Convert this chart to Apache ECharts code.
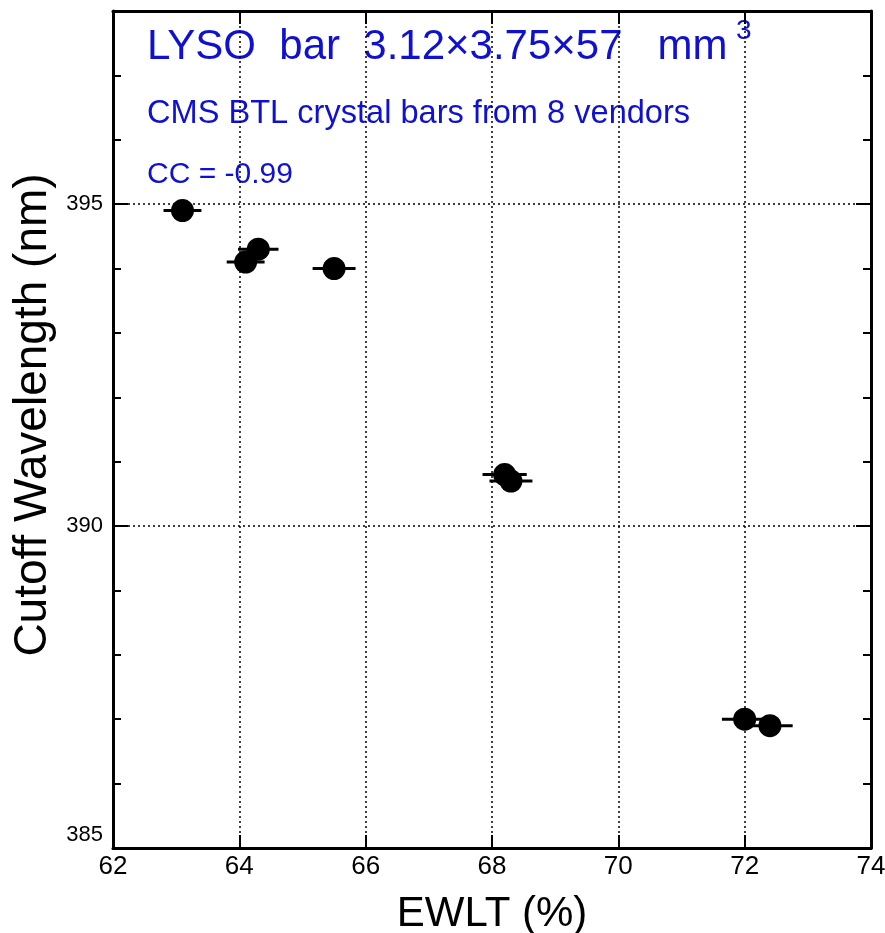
<!DOCTYPE html>
<html>
<head>
<meta charset="utf-8">
<script src="https://cdn.jsdelivr.net/npm/echarts@6/dist/echarts.min.js"></script>
<style>
  html, body { margin: 0; padding: 0; background: #fff; }
  #chart { width: 885px; height: 933px; }
</style>
</head>
<body>
<div id="chart"></div>
<script>
// EWLT (%) vs cutoff wavelength (nm), one point per vendor batch
const ewlt = [63.1, 64.1, 64.3, 65.5, 68.2, 68.3, 72.0, 72.4]
const cutoff = [394.9, 394.1, 394.3, 394.0, 390.8, 390.7, 387.0, 386.9]
const ewltErr = [0.3, 0.3, 0.32, 0.34, 0.35, 0.34, 0.36, 0.36]
const yLabels = [385, 390, 395]

const blue = '#1010d0'
const font = 'Liberation Sans, Arial, sans-serif'

const points = ewlt.map((x, i) => [x, cutoff[i], ewltErr[i]])

const chart = echarts.init(document.getElementById('chart'))

const frame = { show: true, lineStyle: { color: '#000', width: 3 } }
const dotted = { show: true, lineStyle: { color: '#000', width: 1.5, type: [2, 3] } }

chart.setOption({
  animation: false,
  grid: { left: 113, right: 14, top: 11, bottom: 85, outerBoundsMode: 'none' },
  xAxis: [
    {
      type: 'value', min: 62, max: 74, interval: 2,
      axisLine: frame,
      axisTick: { inside: true, length: 13, lineStyle: { color: '#000', width: 2 } },
      axisLabel: { color: '#000', fontSize: 26, fontFamily: font, margin: 6 },
      splitLine: dotted
    },
    {
      type: 'value', position: 'top', min: 62, max: 74, interval: 2,
      axisLine: frame,
      axisTick: { inside: true, length: 13, lineStyle: { color: '#000', width: 2 } },
      axisLabel: { show: false },
      splitLine: { show: false }
    }
  ],
  yAxis: [
    {
      type: 'value', position: 'left', min: 385, max: 398, interval: 5,
      axisLine: frame,
      axisTick: { inside: true, length: 15, lineStyle: { color: '#000', width: 2 } },
      axisLabel: {
        color: '#000', fontSize: 22, fontFamily: font, margin: 10,
        formatter: v => yLabels.includes(v) ? (v === 385 ? '{low|' + v + '}' : String(v)) : '',
        rich: { low: { fontSize: 22, fontFamily: font, color: '#000', padding: [0, 0, 26, 0] } }
      },
      splitLine: dotted
    },
    {
      type: 'value', position: 'left', min: 385, max: 398, interval: 1,
      axisLine: { show: false },
      axisTick: { inside: true, length: 8, lineStyle: { color: '#000', width: 2 } },
      axisLabel: { show: false },
      splitLine: { show: false }
    },
    {
      type: 'value', position: 'right', min: 385, max: 398, interval: 5,
      axisLine: frame,
      axisTick: { inside: true, length: 15, lineStyle: { color: '#000', width: 2 } },
      axisLabel: { show: false },
      splitLine: { show: false }
    },
    {
      type: 'value', position: 'right', min: 385, max: 398, interval: 1,
      axisLine: { show: false },
      axisTick: { inside: true, length: 8, lineStyle: { color: '#000', width: 2 } },
      axisLabel: { show: false },
      splitLine: { show: false }
    }
  ],
  graphic: [
    {
      type: 'text', left: 147, top: 26,
      style: { text: 'LYSO  bar  3.12×3.75×57   mm', fill: blue, font: '42px ' + font }
    },
    {
      type: 'text', left: 736, top: 17,
      style: { text: '3', fill: blue, font: '28px ' + font }
    },
    {
      type: 'text', left: 147, top: 98,
      style: { text: 'CMS BTL crystal bars from 8 vendors', fill: blue, font: '32.6px ' + font }
    },
    {
      type: 'text', left: 147, top: 160,
      style: { text: 'CC = -0.99', fill: blue, font: '30px ' + font }
    },
    {
      type: 'text', x: 33, y: 415, rotation: Math.PI / 2,
      style: { text: 'Cutoff Wavelength (nm)', fill: '#000', font: '46px ' + font, align: 'center', verticalAlign: 'middle' }
    },
    {
      type: 'text', x: 492, y: 914,
      style: { text: 'EWLT (%)', fill: '#000', font: '42px ' + font, align: 'center', verticalAlign: 'middle' }
    }
  ],
  series: [
    {
      type: 'custom',
      data: points,
      renderItem: (params, api) => {
        const y = api.value(1)
        const a = api.coord([api.value(0) - api.value(2), y])
        const b = api.coord([api.value(0) + api.value(2), y])
        return {
          type: 'line',
          shape: { x1: a[0], y1: a[1], x2: b[0], y2: b[1] },
          style: { stroke: '#000', lineWidth: 3 }
        }
      },
      z: 2
    },
    {
      type: 'scatter',
      data: points.map(p => [p[0], p[1]]),
      symbol: 'circle',
      symbolSize: 23,
      itemStyle: { color: '#000', opacity: 1 },
      z: 3
    }
  ]
})
</script>
</body>
</html>
